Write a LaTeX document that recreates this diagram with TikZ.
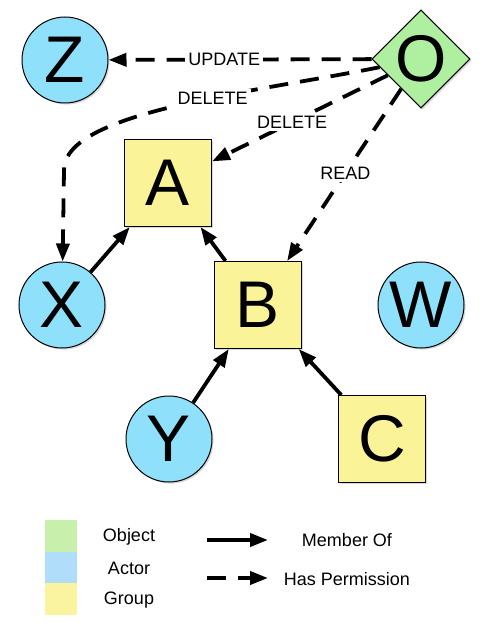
\documentclass[tikz,border=0pt]{standalone}
\usepackage{fontspec}
\setmainfont{Liberation Sans}
\usetikzlibrary{arrows.meta,shapes.geometric,shadows}
\definecolor{actorblue}{RGB}{143,224,250}
\definecolor{groupyellow}{RGB}{251,243,152}
\definecolor{objectgreen}{RGB}{175,240,160}
\definecolor{legendgreen}{RGB}{200,240,172}
\definecolor{legendblue}{RGB}{176,222,250}
\definecolor{legendyellow}{RGB}{250,244,160}
\newcommand{\letterfont}{\fontsize{33}{33}\selectfont}
\newcommand{\labelfont}{\fontsize{9}{10}\selectfont}
\tikzset{
  shade/.style={drop shadow={shadow xshift=0.8pt,shadow yshift=-0.8pt,opacity=0.3}},
  actor/.style={circle,draw,line width=0.5pt,fill=actorblue,minimum size=43pt,inner sep=0pt,font=\letterfont,shade},
  group/.style={rectangle,draw,line width=0.5pt,fill=groupyellow,minimum size=43.5pt,inner sep=0pt,font=\letterfont,shade},
  object/.style={diamond,draw,line width=0.5pt,fill=objectgreen,minimum size=43pt,inner sep=0pt,shape aspect=1,font=\letterfont,shade},
  member/.style={line width=1.9pt,-{Triangle[length=9pt,width=6.5pt]}},
  perm/.style={member,dash pattern=on 9.5pt off 6pt},
  permlabel/.style={fill=white,inner sep=1.5pt,font=\labelfont},
  legendtext/.style={font=\labelfont}
}
\begin{document}
\begin{tikzpicture}[x=0.5pt,y=-0.5pt]
  \useasboundingbox (0,0) rectangle (484,625);
  % 节点：Actor 圆，Group 方块，Object 菱形
  \node[actor]  (Z) at (65,60)   {Z};
  \node[object] (O) at (421,59)  {O};
  \node[group]  (A) at (168,183) {A};
  \node[group]  (B) at (258,305) {B};
  \node[actor]  (X) at (62,305)  {X};
  \node[actor]  (W) at (421,305) {W};
  \node[actor]  (Y) at (169,439) {Y};
  \node[group]  (C) at (382,439) {C};
  % Member Of（实线箭头）
  \draw[member] (X) -- (A);
  \draw[member] (B) -- (A);
  \draw[member] (Y) -- (B);
  \draw[member] (C) -- (B);
  % Has Permission（虚线箭头，从 O 出发）
  \coordinate (bend) at (64,170);
  \draw[perm] (O) -- node[permlabel,pos=0.56]{UPDATE} (Z);
  \draw[perm] (O) .. controls (250,93) and (64,112) .. node[permlabel,pos=0.4]{DELETE} (bend) -- (X);
  \draw[perm] (O) -- node[permlabel,pos=0.544]{DELETE} (A);
  \draw[perm] (O) -- node[permlabel,pos=0.49]{READ} (B);
  % 图例
  \fill[legendgreen]  (45,520) rectangle (77,552);
  \fill[legendblue]   (45,552) rectangle (77,583);
  \fill[legendyellow] (45,583) rectangle (77,615);
  \node[legendtext] (lobj) at (129,537) {Object};
  \node[legendtext] (lact) at (129,568) {Actor};
  \node[legendtext] (lgrp) at (129,600) {Group};
  \coordinate (m1) at (207,540);
  \coordinate (m2) at (268,540);
  \draw[member] (m1) -- (m2);
  \node[legendtext] (lmem) at (347,540) {Member Of};
  \coordinate (p1) at (207,578);
  \coordinate (p2) at (268,578);
  \draw[perm] (p1) -- (p2);
  \node[legendtext] (lper) at (347,579) {Has Permission};
\end{tikzpicture}
\end{document}
